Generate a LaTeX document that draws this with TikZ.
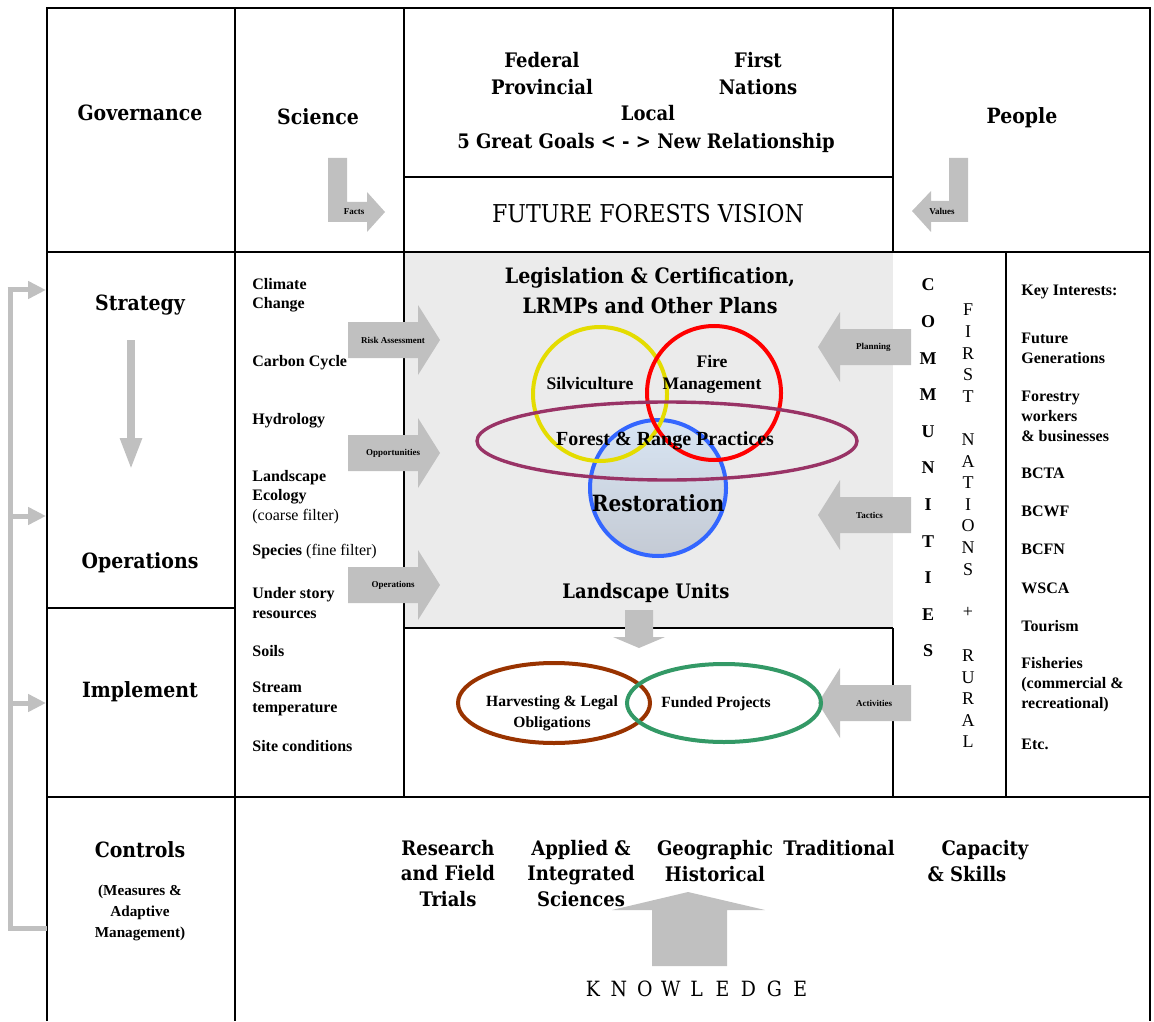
\documentclass[tikz,border=0pt]{standalone}
\usepackage{fontspec}
\setmainfont{Liberation Serif}
\newfontfamily\slabfont{DejaVu Serif Condensed}
\usetikzlibrary{arrows.meta}

\definecolor{arrowgray}{RGB}{192,192,192}
\definecolor{planarea}{RGB}{235,235,235}
\definecolor{silviyellow}{RGB}{228,220,0}
\definecolor{firered}{RGB}{255,0,0}
\definecolor{restblue}{RGB}{51,102,255}
\definecolor{resttop}{RGB}{216,229,243}
\definecolor{restbottom}{RGB}{196,202,212}
\definecolor{frpurple}{RGB}{153,51,102}
\definecolor{harvbrown}{RGB}{153,51,0}
\definecolor{fundgreen}{RGB}{51,153,102}

\begin{document}
\begin{tikzpicture}[x=0.5pt,y=-0.5pt,
  cellline/.style={line width=0.9pt},
  heading/.style={font=\slabfont\bfseries\fontsize{10.5}{12}\selectfont},
  slabtext/.style={font=\slabfont\bfseries\fontsize{10}{13.5}\selectfont, align=center},
  listitem/.style={font=\bfseries\fontsize{8}{9.7}\selectfont, anchor=west, align=left, inner xsep=0pt},
  keyitem/.style={font=\bfseries\fontsize{8}{10}\selectfont, anchor=west, align=left, inner xsep=0pt},
  circletext/.style={font=\bfseries\fontsize{8.8}{11}\selectfont, align=center},
  tinylabel/.style={font=\bfseries\fontsize{4.5}{5}\selectfont},
  commletter/.style={font=\bfseries\fontsize{9}{10}\selectfont},
  natletter/.style={font=\fontsize{9}{10}\selectfont},
  knowletter/.style={font=\slabfont\fontsize{10.5}{12}\selectfont},
  feedback/.style={arrowgray, line width=2.5pt},
]
\useasboundingbox (0,0) rectangle (1154,1021);

% planning area
\fill[planarea] (404,252) rectangle (893,628);

% table lines
\draw[cellline] (47,1021) -- (47,8) -- (1150,8) -- (1150,1021);
\draw[cellline] (235,8) -- (235,1021);
\draw[cellline] (404,8) -- (404,797);
\draw[cellline] (893,8) -- (893,252);
\draw[cellline] (893,628) -- (893,797);
\draw[cellline] (1006,252) -- (1006,797);
\draw[cellline] (47,252) -- (1150,252);
\draw[cellline] (47,797) -- (1150,797);
\draw[cellline] (47,608) -- (235,608);
\draw[cellline] (404,177) -- (893,177);
\draw[cellline] (404,628) -- (893,628);

% feedback loop on the left
\coordinate (fbtop) at (10,290);
\coordinate (fbops) at (10,516);
\coordinate (fbimp) at (10,703);
\coordinate (fbbot) at (10,928);
\coordinate (ctrlin) at (47,928);
\coordinate (stratin) at (46,290);
\coordinate (opsin) at (46,516);
\coordinate (impin) at (46,703);
\draw[feedback, line join=miter] (ctrlin) -- (fbbot) -- (fbtop);
\draw[feedback, -{Triangle[length=9pt,width=8.5pt]}] ([xshift=-1.25pt]fbtop) -- (stratin);
\draw[feedback, -{Triangle[length=9pt,width=8.5pt]}] (fbops) -- (opsin);
\draw[feedback, -{Triangle[length=9pt,width=8.5pt]}] (fbimp) -- (impin);

% strategy to operations
\coordinate (stratdown) at (131,340);
\coordinate (opsup) at (131,470);
\draw[arrowgray, line width=4pt, -{Triangle[length=16pt,width=10pt]}] (stratdown) -- (opsup);

% facts and values
\fill[arrowgray] (328,158) -- (347,158) -- (347,202) -- (367,202) -- (367,192) -- (385,212) -- (367,232) -- (367,222) -- (328,222) -- cycle;
\node[tinylabel] (facts) at (354,212) {Facts};
\fill[arrowgray] (968,158) -- (949,158) -- (949,201) -- (931,201) -- (931,191) -- (912,211) -- (931,232) -- (931,222) -- (968,222) -- cycle;
\node[tinylabel] (values) at (942,211) {Values};

% arrows into the planning area
\foreach \y/\txt/\nm in {340/Risk Assessment/risk, 453/Opportunities/opport, 585/Operations/opsarrow} {
  \fill[arrowgray] (348,\y-18) -- (418,\y-18) -- (418,\y-35) -- (440,\y) -- (418,\y+35) -- (418,\y+18) -- (348,\y+18) -- cycle;
  \node[tinylabel] (\nm) at (393,\y) {\txt};
}
\foreach \y/\txt/\nm in {347/Planning/plan, 515/Tactics/tact, 703/Activities/activ} {
  \fill[arrowgray] (911,\y-18) -- (840,\y-18) -- (840,\y-35) -- (818,\y) -- (840,\y+35) -- (840,\y+18) -- (911,\y+18) -- cycle;
  \node[tinylabel, anchor=west] (\nm) at (849,\y) {\txt};
}
\fill[arrowgray] (625,610) -- (653,610) -- (653,637) -- (665,637) -- (639,648) -- (613,637) -- (625,637) -- cycle;
\fill[arrowgray] (652,966) -- (652,910) -- (612,910) -- (688,892) -- (765,910) -- (727,910) -- (727,966) -- cycle;

% circles
\draw[restblue, line width=2pt, top color=resttop, bottom color=restbottom] (658,488) circle [radius=34pt];
\draw[silviyellow, line width=2pt] (600,394) circle [radius=33.5pt];
\draw[firered, line width=2pt] (714,393) circle [radius=33.5pt];
\draw[frpurple, line width=1.7pt] (667,441) ellipse [x radius=95pt, y radius=19.5pt];
\draw[harvbrown, line width=2pt] (554,703) ellipse [x radius=48pt, y radius=20pt];
\draw[fundgreen, line width=2pt] (724,703) ellipse [x radius=48.5pt, y radius=19.5pt];

% headings
\node[heading] (gov) at (140,113) {Governance};
\node[heading] (sci) at (318,117) {Science};
\node[heading] (people) at (1022,118) {People};
\node[heading] (strat) at (140,305) {Strategy};
\node[heading] (oper) at (140,563) {Operations};
\node[heading] (impl) at (140,692) {Implement};
\node[heading] (ctrl) at (140,850) {Controls};
\node[circletext, font=\bfseries\fontsize{7.6}{10.5}\selectfont] (ctrlsub) at (140,913) {(Measures \&\\Adaptive\\Management)};

% government
\node[slabtext] (federal) at (542,73.5) {Federal\\Provincial};
\node[slabtext] (firstnat) at (758,73.5) {First\\Nations};
\node[slabtext] (local) at (648,113) {Local};
\node[slabtext] (goals) at (646,143) {5 Great Goals < - > New Relationship};
\node[font=\slabfont\fontsize{12.3}{14}\selectfont] (vision) at (648,214) {FUTURE FORESTS VISION};

% planning area
\node[slabtext, font=\slabfont\bfseries\fontsize{10.6}{15}\selectfont] (legis) at (650,291) {Legislation \& Certification,\\LRMPs and Other Plans};
\node[circletext] (silvi) at (590,383) {Silviculture};
\node[circletext] (fire) at (712,374) {Fire\\Management};
\node[circletext, font=\bfseries\fontsize{10}{11}\selectfont] (frp) at (665,441) {Forest \& Range Practices};
\node[slabtext, font=\slabfont\bfseries\fontsize{11.2}{14}\selectfont] (resto) at (658,503) {Restoration};
\node[slabtext] (landunits) at (646,593) {Landscape Units};
\node[circletext, font=\bfseries\fontsize{7.8}{10.5}\selectfont] (harv) at (552,713) {Harvesting \& Legal\\Obligations};
\node[circletext, font=\bfseries\fontsize{7.8}{10.5}\selectfont] (funded) at (716,704) {Funded Projects};

% science list
\node[listitem] (climate) at (252,295.5) {Climate\\Change};
\node[listitem] (carbon) at (252,363) {Carbon Cycle};
\node[listitem] (hydro) at (252,421) {Hydrology};
\node[listitem] (landeco) at (252,497) {Landscape\\Ecology\\\textmd{(coarse filter)}};
\node[listitem] (species) at (252,552) {Species \textmd{(fine filter)}};
\node[listitem] (understory) at (252,603) {Under story\\resources};
\node[listitem] (soils) at (252,651) {Soils};
\node[listitem] (stream) at (252,699) {Stream\\temperature};
\node[listitem] (site) at (252,746) {Site conditions};

% communities
\foreach \ch [count=\i from 0] in {C,O,M,M,U,N,I,T,I,E,S}
  \node[commletter] (comm\i) at (928,285+36.6*\i) {\ch};
\foreach \ch/\k in {F/0,I/1,R/2,S/3,T/4,N/6,A/7,T/8,I/9,O/10,N/11,S/12,+/14,R/16,U/17,R/18,A/19,L/20}
  \node[natletter] (fn\k) at (968,310+21.6*\k) {\ch};

% key interests
\node[keyitem] (keyint) at (1021,292) {Key Interests:};
\node[keyitem] (future) at (1021,348) {Future\\Generations};
\node[keyitem] (forestry) at (1021,416) {Forestry\\workers\\\& businesses};
\node[keyitem] (bcta) at (1021,473) {BCTA};
\node[keyitem] (bcwf) at (1021,511) {BCWF};
\node[keyitem] (bcfn) at (1021,549) {BCFN};
\node[keyitem] (wsca) at (1021,588) {WSCA};
\node[keyitem] (tourism) at (1021,626) {Tourism};
\node[keyitem] (fisheries) at (1021,685) {Fisheries\\(commercial \&\\recreational)};
\node[keyitem] (etc) at (1021,744) {Etc.};

% knowledge
\node[slabtext, font=\slabfont\bfseries\fontsize{10}{12.75}\selectfont] (research) at (448,873.5) {Research\\and Field\\Trials};
\node[slabtext, font=\slabfont\bfseries\fontsize{10}{12.75}\selectfont] (applied) at (581,873.5) {Applied \&\\Integrated\\Sciences};
\node[slabtext, font=\slabfont\bfseries\fontsize{10}{12.75}\selectfont] (geo) at (715,861) {Geographic\\Historical};
\node[slabtext, font=\slabfont\bfseries\fontsize{10}{12.75}\selectfont] (trad) at (839,848) {Traditional};
\node[slabtext, font=\slabfont\bfseries\fontsize{10}{12.75}\selectfont] (capacity) at (967,861) {\hspace*{18pt}Capacity\\\& Skills};
\foreach \ch [count=\i from 0] in {K,N,O,W,L,E,D,G,E}
  \node[knowletter] (know\i) at (593+25.9*\i,989) {\ch};
\end{tikzpicture}
\end{document}
